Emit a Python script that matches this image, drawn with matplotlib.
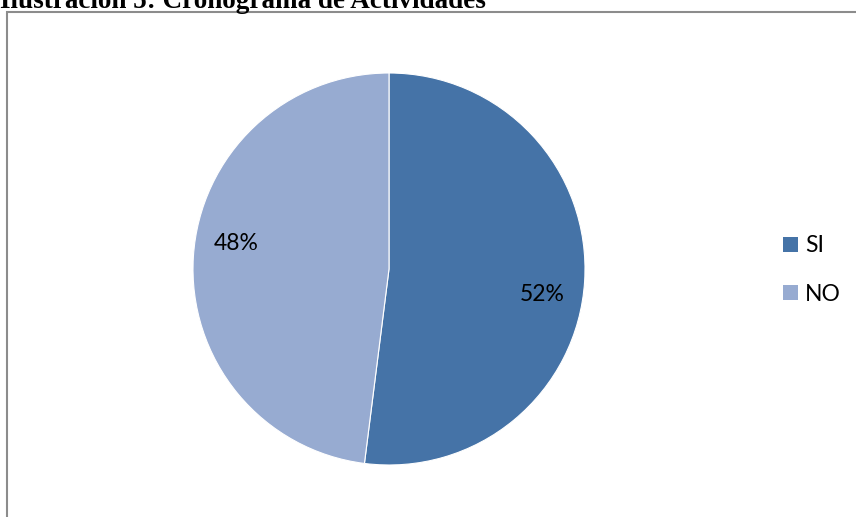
import numpy as np
import matplotlib.pyplot as plt
from matplotlib.patches import Rectangle

# datos del grafico
categorias = ['SI', 'NO']
porcentajes = [52, 48]
colores = ['#4573A7', '#97ABD1']
titulo = 'Ilustración 5: Cronograma de Actividades'

W, H = 856, 517
fig = plt.figure(figsize=(W/100, H/100), dpi=100)

# marco gris del area del grafico (se sale por derecha y abajo)
fig.patches.append(Rectangle((7.5/W, -0.05), 1.2, (H - 11.5)/H + 0.05,
                             transform=fig.transFigure, fill=False,
                             edgecolor='#8c8c8c', linewidth=1.5))

# titulo cortado arriba
fig.text(0, 1 - 8/H, titulo, fontsize=19.5, fontweight='bold',
         family='Liberation Serif', va='baseline', ha='left')

# pie centrado en (389, 269) px, radio 196 px
cx, cy, r = 389, 269, 196
ax = fig.add_axes([(cx - r)/W, (H - cy - r)/H, 2*r/W, 2*r/H])
wedges, textos = ax.pie(porcentajes, colors=colores, startangle=90,
                        counterclock=False, radius=1,
                        wedgeprops=dict(linewidth=0.8, edgecolor='white'))
ax.set_xlim(-1, 1)
ax.set_ylim(-1, 1)
ax.set_aspect('auto')
ax.axis('off')

# etiquetas de porcentaje (un poco giradas como en excel)
for w, p in zip(wedges, porcentajes):
    ang = np.deg2rad((w.theta1 + w.theta2)/2 - 5.8)
    ax.text(0.79*np.cos(ang), 0.79*np.sin(ang), f'{p}%',
            ha='center', va='center', fontsize=16.5, family='Lato')

# leyenda
hs = [Rectangle((0, 0), 1, 1, facecolor=c) for c in colores]
fig.legend(hs, categorias, loc='center left', bbox_to_anchor=(783/W, 1 - 270/H),
           frameon=False, prop=dict(family='Lato', size=16.5),
           handlelength=0.65, handleheight=0.65, handletextpad=0.3,
           labelspacing=1.2, borderpad=0, borderaxespad=0)

fig.savefig('out.png', dpi=100)
